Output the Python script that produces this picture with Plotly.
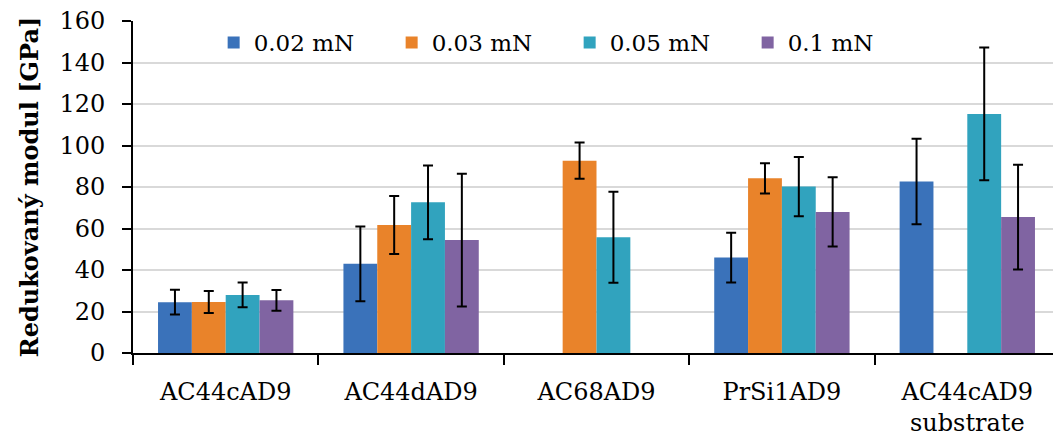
import plotly.graph_objects as go

categories = ["AC44cAD9", "AC44dAD9", "AC68AD9", "PrSi1AD9", "AC44cAD9<br>substrate"]
series_names = ["0.02 mN", "0.03 mN", "0.05 mN", "0.1 mN"]
v002 = [24.5, 43.0, None, 46.0, 82.7]
e002 = [6.0, 18.0, None, 12.0, 20.6]
v003 = [24.6, 61.7, 92.7, 84.2, None]
e003 = [5.3, 14.0, 8.7, 7.3, None]
v005 = [28.0, 72.6, 55.8, 80.2, 115.2]
e005 = [6.0, 17.8, 21.9, 14.3, 32.0]
v01 = [25.4, 54.4, None, 68.0, 65.5]
e01 = [5.0, 32.0, None, 16.7, 25.2]
y_ticks = [0, 20, 40, 60, 80, 100, 120, 140, 160]

colors = ["#3A72BA", "#E9832A", "#31A3BE", "#8064A2"]
values = [v002, v003, v005, v01]
errors = [e002, e003, e005, e01]

FONT = "DejaVu Serif"
fig = go.Figure()
for name, vals, errs, col in zip(series_names, values, errors, colors):
    fig.add_trace(go.Bar(
        x=categories, y=vals, name=name,
        marker=dict(color=col, line=dict(width=0)),
        error_y=dict(type="data", array=errs, visible=True, color="black", thickness=2, width=5),
    ))

fig.update_layout(
    width=1053, height=428,
    margin=dict(l=125, r=1, t=13, b=83, autoexpand=False),
    paper_bgcolor="white", plot_bgcolor="white",
    barmode="group", bargap=0.27, bargroupgap=0,
    font=dict(family=FONT, size=23, color="black"),
    legend=dict(orientation="h", x=0.087, y=1.0, xanchor="left", yanchor="top",
                bgcolor="rgba(0,0,0,0)", font=dict(size=23, family=FONT),
                entrywidth=133, entrywidthmode="pixels", itemwidth=30),
    yaxis=dict(range=[0, 160], tickvals=y_ticks, showgrid=True, gridcolor="#D9D9D9", gridwidth=1.5,
               showline=True, linecolor="black", linewidth=2, ticks="outside", ticklen=9, tickwidth=2,
               tickcolor="black", zeroline=False, ticklabelstandoff=12, ticklabeloverflow="allow",
               title=dict(text="<b>Redukovaný modul [GPa]</b>", font=dict(size=24, family=FONT), standoff=14),
               tickfont=dict(size=24, family=FONT)),
    xaxis=dict(showline=True, linecolor="black", linewidth=2, ticks="outside", tickson="boundaries",
               ticklen=10, tickwidth=2, tickcolor="black", tickfont=dict(size=24, family=FONT),
               showgrid=False, ticklabelstandoff=16, ticklabeloverflow="allow"),
)
fig.write_html("out.html")
